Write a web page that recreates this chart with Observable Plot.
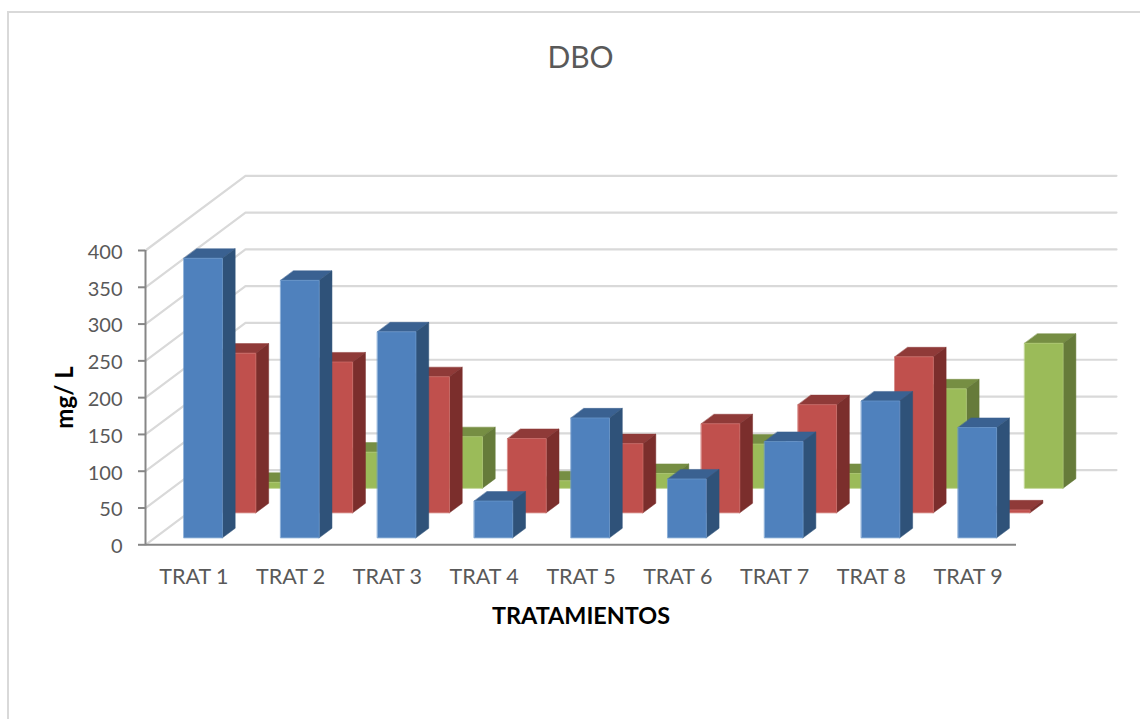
<!DOCTYPE html>
<html lang="es">
<head>
<meta charset="utf-8">
<title>DBO</title>
<script src="https://cdn.jsdelivr.net/npm/d3@7"></script>
<script src="https://cdn.jsdelivr.net/npm/@observablehq/plot@0.6"></script>
<style>
  html, body { margin: 0; padding: 0; background: #fff; overflow: hidden; }
  #frame {
    position: absolute; left: 7px; top: 11px; width: 1133px; height: 708px;
    border-left: 2px solid #d9d9d9; border-top: 2px solid #d9d9d9; box-sizing: border-box;
  }
  #title {
    position: absolute; left: 0; top: 37px; width: 1161px; text-align: center;
    font: 30px Lato, sans-serif; color: #595959; line-height: 38px;
  }
  #chart { position: absolute; left: 0; top: 0; }
  #chart svg { display: block; background: transparent; }
</style>
</head>
<body>
<div id="frame"></div>
<div id="chart"></div>
<div id="title">DBO</div>
<script>
// DBO por tratamiento, columnas 3D con tres series en profundidad.
const categories = ["TRAT 1", "TRAT 2", "TRAT 3", "TRAT 4", "TRAT 5", "TRAT 6", "TRAT 7", "TRAT 8", "TRAT 9"];
const serieAzul = [380, 350, 280, 50, 163, 80, 131, 186, 150];
const serieRoja = [217, 205, 185, 101, 94, 121, 147, 212, 4];
const serieVerde = [8, 49, 70, 10, 20, 60, 20, 135, 197];
const valueTicks = [0, 50, 100, 150, 200, 250, 300, 350, 400];

// Oblique projection: one unit of depth moves a point right and up in scale units.
const depthX = 1.033;
const depthY = 101.5;
const barWidth = 0.397;
const barDepth = 0.128;

const series = [
  {name: "Verde", values: serieVerde, depth: 0.758, front: "#9bbb59", side: "#667b3a", top: "#768e43", edge: "#aec873"},
  {name: "Roja", values: serieRoja, depth: 0.428, front: "#c0504d", side: "#7b2e2c", top: "#8f3a38", edge: "#cc6d6a"},
  {name: "Azul", values: serieAzul, depth: 0.093, front: "#4f81bd", side: "#2f5279", top: "#3a6191", edge: "#6a97cb"}
];

const project = (x, v, d) => ({x: x + d * depthX, y: v + d * depthY});

// One closed polygon per face, from a bar's category index, value and depth.
function faces(values, depth) {
  const front = [], side = [], top = [];
  values.forEach((v, i) => {
    const x0 = i + 0.5 - barWidth / 2, x1 = i + 0.5 + barWidth / 2;
    const d0 = depth, d1 = depth + barDepth;
    const add = (list, corners) => corners.forEach(([x, val, d]) => list.push({bar: i, ...project(x, val, d)}));
    add(front, [[x0, 0, d0], [x1, 0, d0], [x1, v, d0], [x0, v, d0]]);
    add(side, [[x1, 0, d0], [x1, 0, d1], [x1, v, d1], [x1, v, d0]]);
    add(top, [[x0, v, d0], [x1, v, d0], [x1, v, d1], [x0, v, d1]]);
  });
  return {front, side, top};
}

// Walls: each gridline runs along the side wall, then across the back wall.
const gridPoints = valueTicks.flatMap((t) => [
  {tick: t, ...project(0, t, 0)},
  {tick: t, ...project(0, t, 1)},
  {tick: t, ...project(categories.length, t, 1)}
]);

const barMarks = series.flatMap((s) => {
  const f = faces(s.values, s.depth);
  const opts = {x: "x", y: "y", z: "bar", curve: "linear-closed"};
  return [
    Plot.line(f.top, {...opts, fill: s.top, stroke: s.top, strokeWidth: 0.5}),
    Plot.line(f.side, {...opts, fill: s.side, stroke: s.side, strokeWidth: 0.5}),
    Plot.line(f.front, {...opts, fill: s.front, stroke: s.edge, strokeWidth: 0.75})
  ];
});

const chart = Plot.plot({
  width: 1140,
  height: 719,
  marginLeft: 145,
  marginRight: 124,
  marginTop: 250,
  marginBottom: 175,
  style: {fontFamily: "Lato, sans-serif", background: "transparent", overflow: "visible"},
  x: {type: "linear", domain: [0, categories.length], range: [145, 1016], axis: null},
  y: {type: "linear", domain: [0, 400], range: [544.3, 250], axis: null},
  marks: [
    Plot.line(gridPoints, {x: "x", y: "y", z: "tick", stroke: "#d9d9d9", strokeWidth: 2.2}),
    ...barMarks,
    Plot.ruleX([0], {y1: 0, y2: 400, stroke: "#868686", strokeWidth: 2}),
    Plot.ruleY([0], {x1: 0, x2: categories.length, stroke: "#868686", strokeWidth: 2}),
    // Tick marks and their labels are separate so the labels can sit a little lower.
    Plot.axisY({anchor: "left", ticks: valueTicks, tickSize: 7, stroke: "#868686", strokeWidth: 2, fill: "none", label: null}),
    Plot.axisY({anchor: "left", ticks: valueTicks, tickSize: 0, tickPadding: 23, dy: 2, fontSize: 20, fill: "#595959", label: null}),
    Plot.axisX({
      anchor: "bottom", ticks: categories.map((_, i) => i + 0.5), tickFormat: (d) => categories[Math.floor(d)],
      tickSize: 0, tickPadding: 24, fontSize: 21.5, fill: "#595959", label: null
    }),
    Plot.axisY({
      anchor: "left", ticks: [], label: "mg/ L", labelAnchor: "center", labelArrow: "none", labelOffset: 90,
      fontSize: 24, fontWeight: "bold", fill: "#000"
    }),
    Plot.axisX({
      anchor: "bottom", ticks: [], label: "TRATAMIENTOS", labelAnchor: "center", labelArrow: "none", labelOffset: 79,
      fontSize: 23.4, fontWeight: "bold", fill: "#000"
    })
  ]
});

document.getElementById("chart").append(chart);
</script>
</body>
</html>
